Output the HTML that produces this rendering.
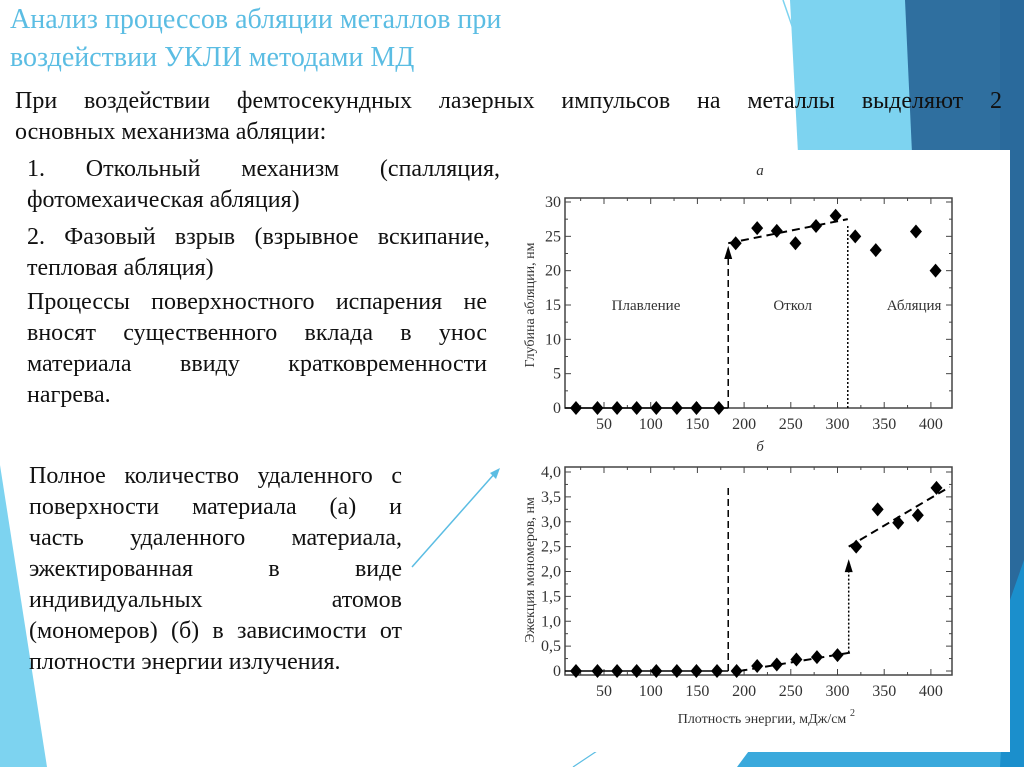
<!DOCTYPE html>
<html><head><meta charset="utf-8">
<style>
html,body{margin:0;padding:0}
body{width:1024px;height:767px;position:relative;overflow:hidden;background:#fff;font-family:"Liberation Serif","Noto Serif CJK SC",serif}
.t{position:absolute;color:#111;font-size:24px;line-height:31px}
.t span{display:block;text-align:justify;text-align-last:justify;white-space:nowrap}
.t span.l{text-align-last:left}
</style></head><body>
<svg width="1024" height="767" style="position:absolute;left:0;top:0">
  <polygon points="790,0 910,0 945,767 830,767" fill="#7dd3f0"/>
  <polygon points="905,0 1024,0 1024,767 940,767" fill="#2f6f9f"/>
  <polygon points="1000,0 1024,0 1024,767 1000,767" fill="#2a6a9c"/>
  <polygon points="757,740 1024,740 1024,767 737,767" fill="#3aa9dc"/>
  <polygon points="1010,600 1024,560 1024,767 1000,767" fill="#1b8fcc"/>
  <line x1="783" y1="0" x2="835" y2="150" stroke="#7dd3f0" stroke-width="1.5"/>
  <polygon points="0,465 0,767 47,767" fill="#7dd3f0"/>
  <line x1="573" y1="767" x2="612" y2="741" stroke="#5bbde3" stroke-width="1.2"/>
  <line x1="412" y1="567" x2="496" y2="472" stroke="#5bbde3" stroke-width="1.5"/>
  <polygon points="500,468 490,473 496,479" fill="#5bbde3"/>
  <rect x="510" y="150" width="500" height="602" fill="#fff"/>
</svg>
<div style="position:absolute;left:10px;top:1px;color:#5bbde3;font-size:28px;line-height:38px;width:700px">Анализ процессов абляции металлов при<br>воздействии УКЛИ методами МД</div>
<div class="t" style="left:15px;top:86px;width:987px"><span>При воздействии фемтосекундных лазерных импульсов на металлы выделяют 2</span><span class="l">основных механизма абляции:</span></div>
<div class="t" style="left:27px;top:154px;width:473px"><span>1. Откольный механизм (спалляция,</span><span class="l">фотомехаическая абляция)</span></div>
<div class="t" style="left:27px;top:222px;width:463px"><span>2. Фазовый взрыв (взрывное вскипание,</span><span class="l">тепловая абляция)</span></div>
<div class="t" style="left:27px;top:287px;width:460px"><span>Процессы поверхностного испарения не</span><span>вносят существенного вклада в унос</span><span>материала ввиду кратковременности</span><span class="l">нагрева.</span></div>
<div class="t" style="left:29px;top:461px;width:373px"><span>Полное количество удаленного с</span><span>поверхности материала (а) и</span><span>часть удаленного материала,</span><span>эжектированная в виде</span><span>индивидуальных атомов</span><span>(мономеров) (б) в зависимости от</span><span class="l">плотности энергии излучения.</span></div>

<svg id="ch" width="1024" height="767" style="position:absolute;left:0;top:0;font-family:'Liberation Serif',serif"></svg>
<script>
const xTicks=[50,100,150,200,250,300,350,400];
const aX=[20,43,64,85,106,128,149,173,191,214,235,255,277,298,319,341,384,405];
const aY=[0,0,0,0,0,0,0,0,24,26.2,25.8,24,26.5,28,25,23,25.7,20];
const aTicks=[0,5,10,15,20,25,30];
const bX=[20,43,64,85,106,128,149,171,192,214,235,256,278,300,320,343,365,386,406];
const bY=[0,0,0,0,0,0,0,0,0,0.1,0.13,0.23,0.28,0.32,2.5,3.25,2.98,3.13,3.68];
const bTicks=[0,0.5,1.0,1.5,2.0,2.5,3.0,3.5,4.0];
const bTickLabels=["0","0,5","1,0","1,5","2,0","2,5","3,0","3,5","4,0"];
const regionLabels=["Плавление","Откол","Абляция"];
const regionX=[95,252,382];

const svg=document.getElementById('ch');
const NS='http://www.w3.org/2000/svg';
function el(t,a,txt){const e=document.createElementNS(NS,t);for(const k in a)e.setAttribute(k,a[k]);if(txt!==undefined)e.textContent=txt;svg.appendChild(e);return e;}
const X=v=>604+(v-50)*0.934;

function frame(top,bot,yMin,yMax,y0px,y1px,ticks,labels,name){
  const Y=v=>y0px+(v-yMin)/(yMax-yMin)*(y1px-y0px);
  const r=el('rect',{x:565,y:top,width:387,height:bot-top,fill:'none',stroke:'#444','stroke-width':1.5});
  
  
  xTicks.forEach(v=>{
    el('line',{x1:X(v),x2:X(v),y1:bot,y2:bot-6,stroke:'#444'});
    el('line',{x1:X(v),x2:X(v),y1:top,y2:top+6,stroke:'#444'});
    el('line',{x1:X(v-25),x2:X(v-25),y1:bot,y2:bot-3,stroke:'#444'});
    el('line',{x1:X(v-25),x2:X(v-25),y1:top,y2:top+3,stroke:'#444'});
    const t=el('text',{x:X(v),y:bot+21,'font-size':16,'text-anchor':'middle',fill:'#333'},v);
    
    
  });
  ticks.forEach((v,i)=>{
    el('line',{x1:565,x2:571,y1:Y(v),y2:Y(v),stroke:'#444'});
    el('line',{x1:952,x2:946,y1:Y(v),y2:Y(v),stroke:'#444'});
    if(i<ticks.length-1){const m=(v+ticks[i+1])/2;
      el('line',{x1:565,x2:568,y1:Y(m),y2:Y(m),stroke:'#444'});
      el('line',{x1:952,x2:949,y1:Y(m),y2:Y(m),stroke:'#444'});}
    const t=el('text',{x:561,y:Y(v)+5,'font-size':16,'text-anchor':'end',fill:'#333'},labels[i]);
    
    
  });
  return Y;
}
function diamond(x,y,name){
  const p=el('polygon',{points:`${x},${y-7} ${x+6},${y} ${x},${y+7} ${x-6},${y}`,fill:'#000'});
  
  
}
function arrowHead(x,y){el('polygon',{points:`${x},${y} ${x-4},${y+13} ${x+4},${y+13}`,fill:'#000'});}

// Chart a
let t=el('text',{x:760,y:175,'font-size':15,'font-style':'italic','text-anchor':'middle',fill:'#333'},'a');

const Ya=frame(198,408,0,30,408,202,aTicks,aTicks.map(String),'chart-a');
t=el('text',{x:0,y:0,'font-size':14,'text-anchor':'middle',fill:'#333',transform:`translate(534,305) rotate(-90)`},'Глубина абляции, нм');

el('line',{x1:565,x2:X(183),y1:Ya(0),y2:Ya(0),stroke:'#000','stroke-width':1.5});
el('line',{x1:X(183),x2:X(183),y1:Ya(0),y2:Ya(22.5),stroke:'#000','stroke-width':1.5,'stroke-dasharray':'7,4'});
arrowHead(X(183),Ya(23.6));
el('line',{x1:X(183),x2:X(311),y1:Ya(24),y2:Ya(27.5),stroke:'#000','stroke-width':2,'stroke-dasharray':'8,5'});
el('line',{x1:X(311),x2:X(311),y1:Ya(0),y2:Ya(26.5),stroke:'#000','stroke-width':1.5,'stroke-dasharray':'2,2'});
regionLabels.forEach((s,i)=>{const e=el('text',{x:X(regionX[i]),y:Ya(15)+5,'font-size':15,'text-anchor':'middle',fill:'#333'},s);
  });
aX.forEach((v,i)=>diamond(X(v),Ya(aY[i]),'chart-a-point'));

// Chart b
t=el('text',{x:760,y:451,'font-size':15,'font-style':'italic','text-anchor':'middle',fill:'#333'},'б');

const Yb=frame(467,675,0,4,671,472,bTicks,bTickLabels,'chart-b');
t=el('text',{x:0,y:0,'font-size':14,'text-anchor':'middle',fill:'#333',transform:`translate(534,570) rotate(-90)`},'Эжекция мономеров, нм');

t=el('text',{x:762,y:723,'font-size':14,'text-anchor':'middle',fill:'#333'},'Плотность энергии, мДж/см');

el('text',{x:850,y:716,'font-size':10,fill:'#333'},'2');
el('line',{x1:565,x2:X(183),y1:Yb(0),y2:Yb(0),stroke:'#000','stroke-width':1.5});
el('line',{x1:X(183),x2:X(183),y1:Yb(0),y2:Yb(3.75),stroke:'#000','stroke-width':1.5,'stroke-dasharray':'7,4'});
el('line',{x1:X(195),x2:X(314),y1:Yb(0),y2:Yb(0.37),stroke:'#000','stroke-width':2,'stroke-dasharray':'8,5'});
el('line',{x1:X(312),x2:X(312),y1:Yb(0.37),y2:Yb(2.15),stroke:'#000','stroke-width':1.5,'stroke-dasharray':'2,2'});
arrowHead(X(312),Yb(2.25));
el('line',{x1:X(312),x2:X(420),y1:Yb(2.5),y2:Yb(3.7),stroke:'#000','stroke-width':2,'stroke-dasharray':'8,5'});
bX.forEach((v,i)=>diamond(X(v),Yb(bY[i]),'chart-b-point'));
</script>
</body></html>
